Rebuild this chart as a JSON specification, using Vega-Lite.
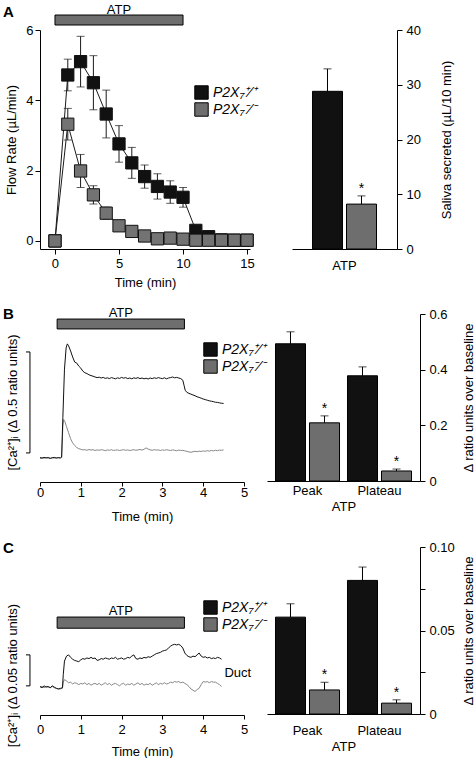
{
"$schema": "https://vega.github.io/schema/vega-lite/v6.json",
"background": "white",
"padding": {"left": 3, "top": 4, "right": 0, "bottom": 0},
"config": {
  "font": "Liberation Sans",
  "view": {"stroke": null},
  "axis": {"grid": false, "domainColor": "#000", "tickColor": "#000", "labelColor": "#000", "titleColor": "#000", "labelFontSize": 13, "titleFontSize": 13, "titleFontWeight": "normal", "labelFont": "Liberation Sans", "titleFont": "Liberation Sans", "domainWidth": 1, "tickWidth": 1, "labelOverlap": false, "labelFlush": false},
  "legend": {"labelFont": "Liberation Sans", "labelColor": "#000"},
  "title": {"font": "Liberation Sans", "color": "#000"},
  "text": {"font": "Liberation Sans", "color": "#000"}
},
"datasets": {
  "atpA": [{"s": 0, "e": 10, "m": 5, "label": "ATP"}],
  "atpBC": [{"s": 0.42, "e": 3.54, "m": 1.98, "label": "ATP"}],
  "flowA": [
    {"t": 0, "g": "WT", "m": 0, "lo": 0, "hi": 0},
    {"t": 1, "g": "WT", "m": 4.72, "lo": 4.27, "hi": 5.17},
    {"t": 2, "g": "WT", "m": 5.10, "lo": 4.38, "hi": 5.82},
    {"t": 3, "g": "WT", "m": 4.50, "lo": 3.73, "hi": 5.27},
    {"t": 4, "g": "WT", "m": 3.61, "lo": 2.93, "hi": 4.29},
    {"t": 5, "g": "WT", "m": 2.76, "lo": 2.24, "hi": 3.28},
    {"t": 6, "g": "WT", "m": 2.22, "lo": 1.78, "hi": 2.66},
    {"t": 7, "g": "WT", "m": 1.83, "lo": 1.50, "hi": 2.16},
    {"t": 8, "g": "WT", "m": 1.55, "lo": 1.19, "hi": 1.91},
    {"t": 9, "g": "WT", "m": 1.39, "lo": 1.07, "hi": 1.71},
    {"t": 10, "g": "WT", "m": 1.24, "lo": 0.96, "hi": 1.52},
    {"t": 11, "g": "WT", "m": 0.30, "lo": 0.30, "hi": 0.30},
    {"t": 12, "g": "WT", "m": 0.12, "lo": 0.12, "hi": 0.12},
    {"t": 13, "g": "WT", "m": 0.03, "lo": 0.03, "hi": 0.03},
    {"t": 14, "g": "WT", "m": 0.02, "lo": 0.02, "hi": 0.02},
    {"t": 15, "g": "WT", "m": 0.02, "lo": 0.02, "hi": 0.02},
    {"t": 0, "g": "KO", "m": 0, "lo": 0, "hi": 0},
    {"t": 1, "g": "KO", "m": 3.32, "lo": 2.87, "hi": 3.77},
    {"t": 2, "g": "KO", "m": 1.99, "lo": 1.52, "hi": 2.46},
    {"t": 3, "g": "KO", "m": 1.31, "lo": 1.05, "hi": 1.57},
    {"t": 4, "g": "KO", "m": 0.79, "lo": 0.62, "hi": 0.96},
    {"t": 5, "g": "KO", "m": 0.43, "lo": 0.38, "hi": 0.48},
    {"t": 6, "g": "KO", "m": 0.27, "lo": 0.27, "hi": 0.27},
    {"t": 7, "g": "KO", "m": 0.14, "lo": 0.14, "hi": 0.14},
    {"t": 8, "g": "KO", "m": 0.06, "lo": 0.06, "hi": 0.06},
    {"t": 9, "g": "KO", "m": 0.08, "lo": 0.08, "hi": 0.08},
    {"t": 10, "g": "KO", "m": 0.05, "lo": 0.05, "hi": 0.05},
    {"t": 11, "g": "KO", "m": 0.02, "lo": 0.02, "hi": 0.02},
    {"t": 12, "g": "KO", "m": 0.02, "lo": 0.02, "hi": 0.02},
    {"t": 13, "g": "KO", "m": 0.02, "lo": 0.02, "hi": 0.02},
    {"t": 14, "g": "KO", "m": 0.02, "lo": 0.02, "hi": 0.02},
    {"t": 15, "g": "KO", "m": 0.02, "lo": 0.02, "hi": 0.02}
  ],
  "barA": [
    {"grp": "ATP", "g": "WT", "v": 28.8, "hi": 32.9, "sig": ""},
    {"grp": "ATP", "g": "KO", "v": 8.2, "hi": 9.7, "sig": "*"}
  ],
  "barB": [
    {"grp": "Peak", "g": "WT", "v": 0.493, "hi": 0.536, "sig": ""},
    {"grp": "Peak", "g": "KO", "v": 0.209, "hi": 0.234, "sig": "*"},
    {"grp": "Plateau", "g": "WT", "v": 0.378, "hi": 0.41, "sig": ""},
    {"grp": "Plateau", "g": "KO", "v": 0.036, "hi": 0.043, "sig": "*"}
  ],
  "barC": [
    {"grp": "Peak", "g": "WT", "v": 0.058, "hi": 0.066, "sig": ""},
    {"grp": "Peak", "g": "KO", "v": 0.0144, "hi": 0.019, "sig": "*"},
    {"grp": "Plateau", "g": "WT", "v": 0.080, "hi": 0.088, "sig": ""},
    {"grp": "Plateau", "g": "KO", "v": 0.0065, "hi": 0.0085, "sig": "*"}
  ],
  "bWT": [
    {"t":0,"v":0.002},{"t":0.05,"v":-0.001},{"t":0.1,"v":0.003},{"t":0.15,"v":0},{"t":0.2,"v":0.002},{"t":0.25,"v":-0.002},{"t":0.3,"v":0.001},{"t":0.35,"v":0.003},{"t":0.4,"v":-0.001},{"t":0.45,"v":0.002},{"t":0.5,"v":0},{"t":0.53,"v":0.004},
    {"t":0.56,"v":0.2},{"t":0.6,"v":0.44},{"t":0.64,"v":0.545},{"t":0.67,"v":0.565},{"t":0.7,"v":0.556},{"t":0.75,"v":0.53},{"t":0.8,"v":0.5},{"t":0.85,"v":0.475},{"t":0.9,"v":0.47},{"t":0.95,"v":0.455},
    {"t":1,"v":0.445},{"t":1.05,"v":0.43},{"t":1.1,"v":0.422},{"t":1.15,"v":0.418},{"t":1.2,"v":0.412},{"t":1.25,"v":0.408},{"t":1.3,"v":0.405},{"t":1.35,"v":0.401},{"t":1.4,"v":0.398},{"t":1.45,"v":0.4},
    {"t":1.5,"v":0.396},{"t":1.55,"v":0.399},{"t":1.6,"v":0.394},{"t":1.65,"v":0.397},{"t":1.7,"v":0.393},{"t":1.75,"v":0.398},{"t":1.8,"v":0.395},{"t":1.85,"v":0.392},{"t":1.9,"v":0.397},{"t":1.95,"v":0.394},
    {"t":2,"v":0.399},{"t":2.05,"v":0.395},{"t":2.1,"v":0.398},{"t":2.15,"v":0.393},{"t":2.2,"v":0.396},{"t":2.25,"v":0.392},{"t":2.3,"v":0.397},{"t":2.35,"v":0.394},{"t":2.4,"v":0.398},{"t":2.45,"v":0.393},
    {"t":2.5,"v":0.396},{"t":2.55,"v":0.392},{"t":2.6,"v":0.395},{"t":2.65,"v":0.391},{"t":2.7,"v":0.396},{"t":2.75,"v":0.393},{"t":2.8,"v":0.397},{"t":2.85,"v":0.394},{"t":2.9,"v":0.398},{"t":2.95,"v":0.395},
    {"t":3,"v":0.393},{"t":3.05,"v":0.397},{"t":3.1,"v":0.392},{"t":3.15,"v":0.396},{"t":3.2,"v":0.398},{"t":3.25,"v":0.401},{"t":3.3,"v":0.397},{"t":3.35,"v":0.399},{"t":3.4,"v":0.396},{"t":3.45,"v":0.393},
    {"t":3.5,"v":0.385},{"t":3.53,"v":0.36},{"t":3.56,"v":0.335},{"t":3.6,"v":0.325},{"t":3.65,"v":0.32},{"t":3.7,"v":0.316},{"t":3.75,"v":0.312},{"t":3.8,"v":0.308},{"t":3.85,"v":0.303},{"t":3.9,"v":0.3},
    {"t":3.95,"v":0.296},{"t":4,"v":0.292},{"t":4.05,"v":0.289},{"t":4.1,"v":0.286},{"t":4.15,"v":0.283},{"t":4.2,"v":0.281},{"t":4.25,"v":0.279},{"t":4.3,"v":0.276},{"t":4.35,"v":0.275},{"t":4.4,"v":0.273},{"t":4.45,"v":0.271},{"t":4.5,"v":0.27}
  ],
  "bKO": [
    {"t":0,"v":-0.002},{"t":0.05,"v":0.001},{"t":0.1,"v":-0.001},{"t":0.15,"v":0.002},{"t":0.2,"v":0},{"t":0.25,"v":-0.002},{"t":0.3,"v":0.001},{"t":0.35,"v":-0.001},{"t":0.4,"v":0.002},{"t":0.45,"v":0},{"t":0.5,"v":0.001},{"t":0.53,"v":0.003},
    {"t":0.54,"v":0.05},{"t":0.56,"v":0.16},{"t":0.58,"v":0.19},{"t":0.61,"v":0.18},{"t":0.65,"v":0.155},{"t":0.7,"v":0.125},{"t":0.75,"v":0.095},{"t":0.8,"v":0.075},{"t":0.85,"v":0.062},{"t":0.9,"v":0.052},{"t":0.95,"v":0.046},
    {"t":1,"v":0.043},{"t":1.05,"v":0.04},{"t":1.1,"v":0.041},{"t":1.15,"v":0.038},{"t":1.2,"v":0.042},{"t":1.25,"v":0.039},{"t":1.3,"v":0.041},{"t":1.35,"v":0.037},{"t":1.4,"v":0.04},{"t":1.45,"v":0.038},
    {"t":1.5,"v":0.041},{"t":1.55,"v":0.039},{"t":1.6,"v":0.036},{"t":1.65,"v":0.04},{"t":1.7,"v":0.038},{"t":1.75,"v":0.041},{"t":1.8,"v":0.037},{"t":1.85,"v":0.039},{"t":1.9,"v":0.04},{"t":1.95,"v":0.037},
    {"t":2,"v":0.039},{"t":2.05,"v":0.041},{"t":2.1,"v":0.038},{"t":2.15,"v":0.04},{"t":2.2,"v":0.037},{"t":2.25,"v":0.039},{"t":2.3,"v":0.041},{"t":2.35,"v":0.038},{"t":2.4,"v":0.04},{"t":2.45,"v":0.042},
    {"t":2.5,"v":0.039},{"t":2.55,"v":0.043},{"t":2.6,"v":0.05},{"t":2.65,"v":0.044},{"t":2.7,"v":0.04},{"t":2.75,"v":0.038},{"t":2.8,"v":0.041},{"t":2.85,"v":0.039},{"t":2.9,"v":0.04},{"t":2.95,"v":0.037},
    {"t":3,"v":0.04},{"t":3.05,"v":0.038},{"t":3.1,"v":0.041},{"t":3.15,"v":0.039},{"t":3.2,"v":0.037},{"t":3.25,"v":0.04},{"t":3.3,"v":0.038},{"t":3.35,"v":0.036},{"t":3.4,"v":0.039},{"t":3.45,"v":0.037},
    {"t":3.5,"v":0.038},{"t":3.55,"v":0.035},{"t":3.6,"v":0.033},{"t":3.65,"v":0.03},{"t":3.7,"v":0.028},{"t":3.75,"v":0.031},{"t":3.8,"v":0.033},{"t":3.85,"v":0.031},{"t":3.9,"v":0.034},{"t":3.95,"v":0.032},
    {"t":4,"v":0.035},{"t":4.05,"v":0.033},{"t":4.1,"v":0.036},{"t":4.15,"v":0.034},{"t":4.2,"v":0.037},{"t":4.25,"v":0.035},{"t":4.3,"v":0.038},{"t":4.35,"v":0.036},{"t":4.4,"v":0.039},{"t":4.45,"v":0.038},{"t":4.5,"v":0.04}
  ],
  "cWT": [
    {"t":0,"v":0.001},{"t":0.05,"v":-0.001},{"t":0.1,"v":0.002},{"t":0.15,"v":0},{"t":0.2,"v":0.001},{"t":0.25,"v":-0.001},{"t":0.3,"v":0.002},{"t":0.35,"v":0},{"t":0.4,"v":-0.002},{"t":0.45,"v":-0.003},{"t":0.5,"v":-0.002},{"t":0.55,"v":-0.001},
    {"t":0.57,"v":0.02},{"t":0.6,"v":0.042},{"t":0.65,"v":0.05},{"t":0.7,"v":0.052},{"t":0.75,"v":0.048},{"t":0.8,"v":0.045},{"t":0.85,"v":0.043},{"t":0.9,"v":0.042},{"t":0.95,"v":0.041},
    {"t":1,"v":0.044},{"t":1.05,"v":0.046},{"t":1.1,"v":0.045},{"t":1.15,"v":0.047},{"t":1.2,"v":0.046},{"t":1.25,"v":0.048},{"t":1.3,"v":0.046},{"t":1.35,"v":0.047},{"t":1.4,"v":0.043},{"t":1.45,"v":0.044},
    {"t":1.5,"v":0.046},{"t":1.55,"v":0.045},{"t":1.6,"v":0.047},{"t":1.65,"v":0.046},{"t":1.7,"v":0.045},{"t":1.75,"v":0.047},{"t":1.8,"v":0.046},{"t":1.85,"v":0.048},{"t":1.9,"v":0.045},{"t":1.95,"v":0.046},
    {"t":2,"v":0.047},{"t":2.05,"v":0.045},{"t":2.1,"v":0.046},{"t":2.15,"v":0.048},{"t":2.2,"v":0.047},{"t":2.25,"v":0.05},{"t":2.3,"v":0.052},{"t":2.35,"v":0.046},{"t":2.4,"v":0.045},{"t":2.45,"v":0.047},
    {"t":2.5,"v":0.046},{"t":2.55,"v":0.048},{"t":2.6,"v":0.047},{"t":2.65,"v":0.049},{"t":2.7,"v":0.048},{"t":2.75,"v":0.05},{"t":2.8,"v":0.052},{"t":2.85,"v":0.054},{"t":2.9,"v":0.055},{"t":2.95,"v":0.056},
    {"t":3,"v":0.058},{"t":3.05,"v":0.059},{"t":3.1,"v":0.06},{"t":3.15,"v":0.063},{"t":3.2,"v":0.066},{"t":3.25,"v":0.068},{"t":3.3,"v":0.069},{"t":3.35,"v":0.068},{"t":3.4,"v":0.069},{"t":3.45,"v":0.067},
    {"t":3.5,"v":0.063},{"t":3.55,"v":0.055},{"t":3.6,"v":0.051},{"t":3.65,"v":0.049},{"t":3.7,"v":0.048},{"t":3.75,"v":0.05},{"t":3.8,"v":0.049},{"t":3.85,"v":0.052},{"t":3.9,"v":0.055},{"t":3.95,"v":0.05},
    {"t":4,"v":0.048},{"t":4.05,"v":0.049},{"t":4.1,"v":0.047},{"t":4.15,"v":0.048},{"t":4.2,"v":0.046},{"t":4.25,"v":0.047},{"t":4.3,"v":0.046},{"t":4.35,"v":0.048},{"t":4.4,"v":0.047},{"t":4.45,"v":0.045}
  ],
  "cKO": [
    {"t":0,"v":0},{"t":0.05,"v":0.001},{"t":0.1,"v":-0.001},{"t":0.15,"v":0.001},{"t":0.2,"v":0},{"t":0.25,"v":-0.001},{"t":0.3,"v":0.001},{"t":0.35,"v":-0.001},{"t":0.4,"v":-0.002},{"t":0.45,"v":-0.003},{"t":0.5,"v":-0.003},{"t":0.55,"v":-0.002},
    {"t":0.57,"v":0.008},{"t":0.6,"v":0.012},{"t":0.65,"v":0.01},{"t":0.7,"v":0.007},{"t":0.75,"v":0.008},{"t":0.8,"v":0.005},{"t":0.85,"v":0.007},{"t":0.9,"v":0.006},{"t":0.95,"v":0.004},
    {"t":1,"v":0.006},{"t":1.05,"v":0.005},{"t":1.1,"v":0.007},{"t":1.15,"v":0.004},{"t":1.2,"v":0.006},{"t":1.25,"v":0.003},{"t":1.3,"v":0.005},{"t":1.35,"v":0.006},{"t":1.4,"v":0.004},{"t":1.45,"v":0.006},
    {"t":1.5,"v":0.003},{"t":1.55,"v":0.005},{"t":1.6,"v":0.007},{"t":1.65,"v":0.004},{"t":1.7,"v":0.006},{"t":1.75,"v":0.003},{"t":1.8,"v":0.005},{"t":1.85,"v":0.006},{"t":1.9,"v":0.004},{"t":1.95,"v":0.002},
    {"t":2,"v":0.005},{"t":2.05,"v":0.006},{"t":2.1,"v":0.003},{"t":2.15,"v":0.005},{"t":2.2,"v":0.004},{"t":2.25,"v":0.006},{"t":2.3,"v":0.003},{"t":2.35,"v":0.005},{"t":2.4,"v":0.007},{"t":2.45,"v":0.004},
    {"t":2.5,"v":0.006},{"t":2.55,"v":0.003},{"t":2.6,"v":0.005},{"t":2.65,"v":0.004},{"t":2.7,"v":0.006},{"t":2.75,"v":0.003},{"t":2.8,"v":0.005},{"t":2.85,"v":0.007},{"t":2.9,"v":0.004},{"t":2.95,"v":0.006},
    {"t":3,"v":0.005},{"t":3.05,"v":0.007},{"t":3.1,"v":0.005},{"t":3.15,"v":0.006},{"t":3.2,"v":0.008},{"t":3.25,"v":0.007},{"t":3.3,"v":0.009},{"t":3.35,"v":0.008},{"t":3.4,"v":0.009},{"t":3.45,"v":0.007},
    {"t":3.5,"v":0.008},{"t":3.55,"v":0.006},{"t":3.6,"v":0.004},{"t":3.65,"v":0.001},{"t":3.7,"v":-0.003},{"t":3.75,"v":-0.005},{"t":3.8,"v":-0.007},{"t":3.85,"v":-0.004},{"t":3.9,"v":-0.002},{"t":3.95,"v":0.004},
    {"t":4,"v":0.009},{"t":4.05,"v":0.008},{"t":4.1,"v":0.009},{"t":4.15,"v":0.007},{"t":4.2,"v":0.009},{"t":4.25,"v":0.008},{"t":4.3,"v":0.008},{"t":4.35,"v":0.006},{"t":4.4,"v":0.004},{"t":4.45,"v":0.001}
  ]
},
"spacing": 18,
"resolve": {"scale": {"color": "independent"}, "legend": {"color": "independent"}},
"vconcat": [
  {
    "bounds": "flush",
    "spacing": 42,
    "resolve": {"scale": {"color": "independent"}, "legend": {"color": "independent"}},
    "hconcat": [
      {
        "width": 210, "height": 219,
        "title": {"text": "A", "anchor": "start", "frame": "group", "dx": -37, "offset": -16, "fontSize": 15, "fontWeight": "bold"},
        "layer": [
          {
            "data": {"name": "atpA"},
            "mark": {"type": "rect", "fill": "#6e6e6e", "stroke": "#000", "strokeWidth": 1},
            "encoding": {
              "x": {"field": "s", "type": "quantitative", "scale": {"domain": [-1.17, 15.23], "nice": false, "zero": false},
                    "axis": {"values": [0, 2.5, 5, 7.5, 10, 12.5, 15], "labelExpr": "datum.value % 5 == 0 ? datum.label : ''", "title": "Time (min)", "tickSize": 5, "labelPadding": 3, "titlePadding": 6}},
              "x2": {"field": "e"},
              "y": {"datum": 6.426, "type": "quantitative", "scale": {"domain": [-0.23, 6], "nice": false, "zero": false},
                    "axis": {"values": [0, 1, 2, 3, 4, 5, 6], "labelExpr": "datum.value % 2 == 0 ? datum.label : ''", "title": "Flow Rate (µL/min)", "tickSize": 5, "labelPadding": 2, "titlePadding": 7}},
              "y2": {"datum": 6.142}
            }
          },
          {
            "data": {"name": "atpA"},
            "mark": {"type": "text", "fontSize": 13, "baseline": "alphabetic", "dy": -1},
            "encoding": {"x": {"field": "m", "type": "quantitative"}, "y": {"datum": 6.426, "type": "quantitative"}, "text": {"field": "label"}}
          },
          {
            "data": {"name": "flowA"},
            "mark": {"type": "line", "color": "#1a1a1a", "strokeWidth": 1},
            "encoding": {"x": {"field": "t", "type": "quantitative"}, "y": {"field": "m", "type": "quantitative"}, "detail": {"field": "g"}}
          },
          {
            "data": {"name": "flowA"},
            "transform": [{"filter": "datum.hi > datum.m"}],
            "mark": {"type": "rule", "color": "#1a1a1a", "strokeWidth": 1},
            "encoding": {"x": {"field": "t", "type": "quantitative"}, "y": {"field": "lo", "type": "quantitative"}, "y2": {"field": "hi"}}
          },
          {
            "data": {"name": "flowA"},
            "transform": [{"filter": "datum.hi > datum.m"}],
            "mark": {"type": "tick", "orient": "horizontal", "color": "#1a1a1a", "size": 8, "thickness": 1},
            "encoding": {"x": {"field": "t", "type": "quantitative"}, "y": {"field": "hi", "type": "quantitative"}}
          },
          {
            "data": {"name": "flowA"},
            "transform": [{"filter": "datum.hi > datum.m"}],
            "mark": {"type": "tick", "orient": "horizontal", "color": "#1a1a1a", "size": 8, "thickness": 1},
            "encoding": {"x": {"field": "t", "type": "quantitative"}, "y": {"field": "lo", "type": "quantitative"}}
          },
          {
            "data": {"name": "flowA"},
            "mark": {"type": "square", "size": 150, "filled": true, "stroke": "#111", "strokeWidth": 1, "opacity": 1},
            "encoding": {
              "x": {"field": "t", "type": "quantitative"}, "y": {"field": "m", "type": "quantitative"},
              "fill": {"field": "g", "type": "nominal", "scale": {"domain": ["WT", "KO"], "range": ["#111111", "#737373"]}, "legend": null}
            }
          }
        ]
      },
      {
        "width": 105, "height": 219,
        "data": {"name": "barA"},
        "encoding": {
          "x": {"field": "grp", "type": "nominal", "scale": {"paddingInner": 0, "paddingOuter": 0.32}, "axis": {"title": null, "ticks": false, "labelAngle": 0, "labelPadding": 10}},
          "xOffset": {"field": "g", "type": "nominal", "sort": ["WT", "KO"], "scale": {"paddingInner": 0.118, "paddingOuter": 0}}
        },
        "layer": [
          {
            "mark": {"type": "bar", "stroke": "#000", "strokeWidth": 1},
            "encoding": {
              "y": {"field": "v", "type": "quantitative", "scale": {"domain": [0, 40], "nice": false},
                    "axis": {"orient": "right", "values": [0, 5, 10, 15, 20, 25, 30, 35, 40], "labelExpr": "datum.value % 10 == 0 ? datum.label : ''", "title": "Saliva secreted (µL/10 min)", "titleAngle": 270, "titleBaseline": "top", "tickSize": 5, "labelPadding": 4, "titlePadding": 20}},
              "color": {"field": "g", "type": "nominal", "scale": {"domain": ["WT", "KO"], "range": ["#111111", "#6e6e6e"]},
                        "legend": {"orient": "none", "legendX": -98, "legendY": 55, "title": null, "symbolType": "square", "symbolSize": 180, "symbolStrokeColor": "#000", "symbolStrokeWidth": 1, "labelFontSize": 14, "labelFontStyle": "italic", "labelExpr": "datum.value == 'WT' ? 'P2X₇⁺⁄⁺' : 'P2X₇⁻⁄⁻'", "rowPadding": -2, "labelOffset": 4, "padding": 0}}
            }
          },
          {
            "mark": {"type": "rule", "color": "#000"},
            "encoding": {"y": {"field": "v", "type": "quantitative"}, "y2": {"field": "hi"}}
          },
          {
            "mark": {"type": "tick", "orient": "horizontal", "color": "#000", "size": 8, "thickness": 1},
            "encoding": {"y": {"field": "hi", "type": "quantitative"}}
          },
          {
            "mark": {"type": "text", "fontSize": 14, "baseline": "alphabetic", "dy": -3},
            "encoding": {"y": {"field": "hi", "type": "quantitative"}, "text": {"field": "sig"}}
          }
        ]
      }
    ]
  },
  {
    "bounds": "flush",
    "spacing": 23,
    "resolve": {"scale": {"color": "independent"}, "legend": {"color": "independent"}},
    "hconcat": [
      {
        "width": 204, "height": 168,
        "title": {"text": "B", "anchor": "start", "frame": "group", "dx": -37, "offset": -15, "fontSize": 15, "fontWeight": "bold"},
        "layer": [
          {
            "data": {"name": "atpBC"},
            "mark": {"type": "rect", "fill": "#6e6e6e", "stroke": "#000", "strokeWidth": 1},
            "encoding": {
              "x": {"field": "s", "type": "quantitative", "scale": {"domain": [0, 5], "nice": false, "zero": false},
                    "axis": {"values": [0, 1, 2, 3, 4, 5], "title": "Time (min)", "tickSize": 4, "labelPadding": 0, "titlePadding": 11}},
              "x2": {"field": "e"},
              "y": {"datum": 0.688, "type": "quantitative", "scale": {"domain": [-0.119, 0.713], "nice": false, "zero": false},
                    "axis": {"domain": false, "ticks": false, "labels": false, "title": "[Ca²⁺]ᵢ (Δ 0.5 ratio units)", "titlePadding": 21, "titleY": 88}},
              "y2": {"datum": 0.639}
            }
          },
          {
            "data": {"name": "atpBC"},
            "mark": {"type": "text", "fontSize": 13, "baseline": "alphabetic", "dy": -2},
            "encoding": {"x": {"field": "m", "type": "quantitative"}, "y": {"datum": 0.688, "type": "quantitative"}, "text": {"field": "label"}}
          },
          {
            "data": {"values": [{}]},
            "mark": {"type": "rule", "color": "#000"},
            "encoding": {"x": {"datum": -0.246, "type": "quantitative"}, "y": {"datum": 0.525, "type": "quantitative"}, "y2": {"datum": 0.025}}
          },
          {
            "data": {"values": [{}]},
            "mark": {"type": "rule", "color": "#000"},
            "encoding": {"x": {"datum": -0.344, "type": "quantitative"}, "x2": {"datum": -0.246}, "y": {"datum": 0.525, "type": "quantitative"}}
          },
          {
            "data": {"values": [{}]},
            "mark": {"type": "rule", "color": "#000"},
            "encoding": {"x": {"datum": -0.344, "type": "quantitative"}, "x2": {"datum": -0.246}, "y": {"datum": 0.025, "type": "quantitative"}}
          },
          {
            "data": {"name": "bKO"},
            "mark": {"type": "line", "color": "#888888", "strokeWidth": 1},
            "encoding": {"x": {"field": "t", "type": "quantitative"}, "y": {"field": "v", "type": "quantitative"}}
          },
          {
            "data": {"name": "bWT"},
            "mark": {"type": "line", "color": "#111111", "strokeWidth": 1},
            "encoding": {"x": {"field": "t", "type": "quantitative"}, "y": {"field": "v", "type": "quantitative"}}
          }
        ]
      },
      {
        "width": 153, "height": 167,
        "data": {"name": "barB"},
        "encoding": {
          "x": {"field": "grp", "type": "nominal", "sort": ["Peak", "Plateau"], "scale": {"paddingInner": 0.111, "paddingOuter": 0.118}, "axis": {"title": "ATP", "ticks": false, "labelAngle": 0, "labelPadding": 3, "titlePadding": 3}},
          "xOffset": {"field": "g", "type": "nominal", "sort": ["WT", "KO"], "scale": {"paddingInner": 0.118, "paddingOuter": 0}}
        },
        "layer": [
          {
            "mark": {"type": "bar", "stroke": "#000", "strokeWidth": 1},
            "encoding": {
              "y": {"field": "v", "type": "quantitative", "scale": {"domain": [0, 0.6], "nice": false},
                    "axis": {"orient": "right", "values": [0, 0.1, 0.2, 0.3, 0.4, 0.5, 0.6], "labelExpr": "datum.value == 0 ? '0' : (round(datum.value * 10) % 2 == 0 ? format(datum.value, '.1f') : '')", "title": "Δ ratio units over baseline", "titleAngle": 270, "titleBaseline": "top", "tickSize": 5, "labelPadding": 4, "titlePadding": 15}},
              "color": {"field": "g", "type": "nominal", "scale": {"domain": ["WT", "KO"], "range": ["#111111", "#6e6e6e"]},
                        "legend": {"orient": "none", "legendX": -64, "legendY": 28, "title": null, "symbolType": "square", "symbolSize": 180, "symbolStrokeColor": "#000", "symbolStrokeWidth": 1, "labelFontSize": 14, "labelFontStyle": "italic", "labelExpr": "datum.value == 'WT' ? 'P2X₇⁺⁄⁺' : 'P2X₇⁻⁄⁻'", "rowPadding": -2, "labelOffset": 4, "padding": 0}}
            }
          },
          {
            "mark": {"type": "rule", "color": "#000"},
            "encoding": {"y": {"field": "v", "type": "quantitative"}, "y2": {"field": "hi"}}
          },
          {
            "mark": {"type": "tick", "orient": "horizontal", "color": "#000", "size": 8, "thickness": 1},
            "encoding": {"y": {"field": "hi", "type": "quantitative"}}
          },
          {
            "mark": {"type": "text", "fontSize": 14, "baseline": "alphabetic", "dy": -3},
            "encoding": {"y": {"field": "hi", "type": "quantitative"}, "text": {"field": "sig"}}
          }
        ]
      }
    ]
  },
  {
    "bounds": "flush",
    "spacing": 23,
    "resolve": {"scale": {"color": "independent"}, "legend": {"color": "independent"}},
    "hconcat": [
      {
        "width": 204, "height": 168,
        "title": {"text": "C", "anchor": "start", "frame": "group", "dx": -37, "offset": -9, "fontSize": 15, "fontWeight": "bold"},
        "layer": [
          {
            "data": {"name": "atpBC"},
            "mark": {"type": "rect", "fill": "#6e6e6e", "stroke": "#000", "strokeWidth": 1},
            "encoding": {
              "x": {"field": "s", "type": "quantitative", "scale": {"domain": [0, 5], "nice": false, "zero": false},
                    "axis": {"values": [0, 1, 2, 3, 4, 5], "title": "Time (min)", "tickSize": 4, "labelPadding": 4, "titlePadding": 9}},
              "x2": {"field": "e"},
              "y": {"datum": 0.113, "type": "quantitative", "scale": {"domain": [-0.045, 0.226], "nice": false, "zero": false},
                    "axis": {"domain": false, "ticks": false, "labels": false, "title": "[Ca²⁺]ᵢ (Δ 0.05 ratio units)", "titlePadding": 21, "titleY": 128}},
              "y2": {"datum": 0.095}
            }
          },
          {
            "data": {"name": "atpBC"},
            "mark": {"type": "text", "fontSize": 13, "baseline": "alphabetic", "dy": -2},
            "encoding": {"x": {"field": "m", "type": "quantitative"}, "y": {"datum": 0.113, "type": "quantitative"}, "text": {"field": "label"}}
          },
          {
            "data": {"values": [{}]},
            "mark": {"type": "rule", "color": "#000"},
            "encoding": {"x": {"datum": -0.246, "type": "quantitative"}, "y": {"datum": 0.052, "type": "quantitative"}, "y2": {"datum": 0.002}}
          },
          {
            "data": {"values": [{}]},
            "mark": {"type": "rule", "color": "#000"},
            "encoding": {"x": {"datum": -0.344, "type": "quantitative"}, "x2": {"datum": -0.246}, "y": {"datum": 0.052, "type": "quantitative"}}
          },
          {
            "data": {"values": [{}]},
            "mark": {"type": "rule", "color": "#000"},
            "encoding": {"x": {"datum": -0.344, "type": "quantitative"}, "x2": {"datum": -0.246}, "y": {"datum": 0.002, "type": "quantitative"}}
          },
          {
            "data": {"values": [{}]},
            "mark": {"type": "text", "text": "Duct", "fontSize": 13, "align": "left"},
            "encoding": {"x": {"datum": 4.52, "type": "quantitative"}, "y": {"datum": 0.023, "type": "quantitative"}}
          },
          {
            "data": {"name": "cKO"},
            "mark": {"type": "line", "color": "#888888", "strokeWidth": 1},
            "encoding": {"x": {"field": "t", "type": "quantitative"}, "y": {"field": "v", "type": "quantitative"}}
          },
          {
            "data": {"name": "cWT"},
            "mark": {"type": "line", "color": "#111111", "strokeWidth": 1},
            "encoding": {"x": {"field": "t", "type": "quantitative"}, "y": {"field": "v", "type": "quantitative"}}
          }
        ]
      },
      {
        "width": 153, "height": 167,
        "data": {"name": "barC"},
        "encoding": {
          "x": {"field": "grp", "type": "nominal", "sort": ["Peak", "Plateau"], "scale": {"paddingInner": 0.111, "paddingOuter": 0.118}, "axis": {"title": "ATP", "ticks": false, "labelAngle": 0, "labelPadding": 10, "titlePadding": 3}},
          "xOffset": {"field": "g", "type": "nominal", "sort": ["WT", "KO"], "scale": {"paddingInner": 0.118, "paddingOuter": 0}}
        },
        "layer": [
          {
            "mark": {"type": "bar", "stroke": "#000", "strokeWidth": 1},
            "encoding": {
              "y": {"field": "v", "type": "quantitative", "scale": {"domain": [0, 0.1], "nice": false},
                    "axis": {"orient": "right", "values": [0, 0.025, 0.05, 0.075, 0.1], "labelExpr": "datum.value == 0 ? '0' : (round(datum.value * 1000) % 50 == 0 ? format(datum.value, '.2f') : '')", "title": "Δ ratio units over baseline", "titleAngle": 270, "titleBaseline": "top", "tickSize": 5, "labelPadding": 4, "titlePadding": 8}},
              "color": {"field": "g", "type": "nominal", "scale": {"domain": ["WT", "KO"], "range": ["#111111", "#6e6e6e"]},
                        "legend": {"orient": "none", "legendX": -64, "legendY": 53, "title": null, "symbolType": "square", "symbolSize": 180, "symbolStrokeColor": "#000", "symbolStrokeWidth": 1, "labelFontSize": 14, "labelFontStyle": "italic", "labelExpr": "datum.value == 'WT' ? 'P2X₇⁺⁄⁺' : 'P2X₇⁻⁄⁻'", "rowPadding": -2, "labelOffset": 4, "padding": 0}}
            }
          },
          {
            "mark": {"type": "rule", "color": "#000"},
            "encoding": {"y": {"field": "v", "type": "quantitative"}, "y2": {"field": "hi"}}
          },
          {
            "mark": {"type": "tick", "orient": "horizontal", "color": "#000", "size": 8, "thickness": 1},
            "encoding": {"y": {"field": "hi", "type": "quantitative"}}
          },
          {
            "mark": {"type": "text", "fontSize": 14, "baseline": "alphabetic", "dy": -3},
            "encoding": {"y": {"field": "hi", "type": "quantitative"}, "text": {"field": "sig"}}
          }
        ]
      }
    ]
  }
]
}
